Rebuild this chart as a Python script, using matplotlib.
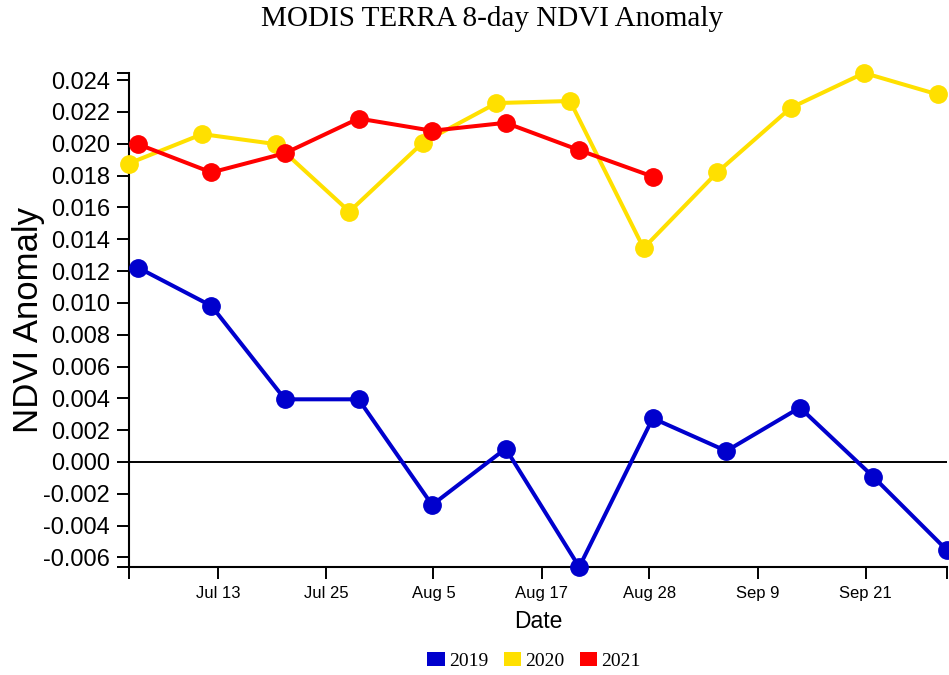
import matplotlib
matplotlib.use("Agg")
import matplotlib.pyplot as plt
import matplotlib.dates as mdates
from matplotlib.patches import Patch
from matplotlib.ticker import FixedLocator, FuncFormatter
import numpy as np
import pandas as pd

# 8-day composite dates per year
dates_2019 = ["2019-07-04", "2019-07-12", "2019-07-20", "2019-07-28", "2019-08-05", "2019-08-13",
              "2019-08-21", "2019-08-29", "2019-09-06", "2019-09-14", "2019-09-22", "2019-09-30"]
dates_2020 = ["2020-07-03", "2020-07-11", "2020-07-19", "2020-07-27", "2020-08-04", "2020-08-12",
              "2020-08-20", "2020-08-28", "2020-09-05", "2020-09-13", "2020-09-21", "2020-09-29"]
dates_2021 = ["2021-07-04", "2021-07-12", "2021-07-20", "2021-07-28", "2021-08-05", "2021-08-13",
              "2021-08-21", "2021-08-29"]

ndvi_2019 = [0.01222, 0.00981, 0.00394, 0.00394, -0.00270, 0.00084,
             -0.00660, 0.00275, 0.00069, 0.00342, -0.00094, -0.00555]
ndvi_2020 = [0.01876, 0.02061, 0.01998, 0.01574, 0.02008, 0.02256,
             0.02269, 0.01344, 0.01820, 0.02226, 0.02445, 0.02310]
ndvi_2021 = [0.01998, 0.01820, 0.01941, 0.02159, 0.02082, 0.02132,
             0.01960, 0.01794]

years = ["2019", "2020", "2021"]
colors = ["#0000CD", "#FFE000", "#FF0000"]

tick_dates = ["2020-07-12 16:30", "2020-07-24 11:00", "2020-08-05 03:30", "2020-08-16 22:30",
              "2020-08-28 15:00", "2020-09-09 09:30", "2020-09-21 03:30"]
tick_labels = ["Jul 13", "Jul 25", "Aug 5", "Aug 17", "Aug 28", "Sep 9", "Sep 21"]


def to_common_year(ds):
    # put every season on the same (2020) calendar so they overlay
    return [pd.Timestamp(d).replace(year=2020) for d in ds]


W, H = 949, 675
fig = plt.figure(figsize=(W / 100, H / 100), dpi=100)
ax = fig.add_axes([128.7 / W, 1 - 567 / H, (947 - 128.7) / W, (567 - 73) / H])

series = [(dates_2019, ndvi_2019), (dates_2020, ndvi_2020), (dates_2021, ndvi_2021)]
all_x = []
for (ds, vals), c in zip(series, colors):
    xs = to_common_year(ds)
    all_x += xs
    ax.plot(xs, vals, color=c, lw=2.9, marker="o", ms=12.5, clip_on=False, zorder=3)

ax.axhline(0, color="black", lw=1.4, zorder=2)

all_y = ndvi_2019 + ndvi_2020 + ndvi_2021
ylo, yhi = min(all_y), max(all_y)
ax.set_ylim(ylo, yhi)
xlo, xhi = min(all_x), max(all_x)
ax.set_xlim(xlo, xhi)

for s in ["top", "right"]:
    ax.spines[s].set_visible(False)
for s in ["left", "bottom"]:
    ax.spines[s].set_linewidth(1.5)

ax.xaxis.set_major_locator(FixedLocator(mdates.date2num(pd.to_datetime(tick_dates))))
ax.set_xticklabels(tick_labels, fontsize=12, family="Liberation Sans")
ax.xaxis.set_minor_locator(FixedLocator(mdates.date2num([xlo, xhi])))

ax.set_yticks(np.arange(-0.006, 0.0245, 0.002))
ax.yaxis.set_major_formatter(FuncFormatter(lambda v, _: f"{round(v, 3):.3f}".replace("-0.000", "0.000")))
ax.yaxis.set_minor_locator(FixedLocator([ylo, yhi]))
for lab in ax.get_yticklabels():
    lab.set_family("Liberation Sans")
ax.tick_params(axis="y", labelsize=17, pad=5)
ax.tick_params(axis="x", pad=5)
ax.tick_params(which="both", length=8.5, width=1.4, color="black")

ax.set_xlabel("Date", fontsize=16.5, family="Liberation Sans", labelpad=7)
ax.set_ylabel("NDVI Anomaly", fontsize=25, family="Liberation Sans")
ax.yaxis.set_label_coords(29 / W, 0.5, transform=fig.transFigure)
ax.yaxis.label.set_va("center")
ax.yaxis.label.set_y(320 / H)
ax.yaxis.label.set_position((29 / W, 1 - 320 / H))

fig.text(492 / W, 1 - 19 / H, "MODIS TERRA 8-day NDVI Anomaly", ha="center", va="center",
         fontsize=21, family="Liberation Serif")

handles = [Patch(facecolor=c, edgecolor="none") for c in colors]
fig.legend(handles, years, loc="center", bbox_to_anchor=(534 / W, 1 - 661 / H), ncol=3,
           frameon=False, prop={"family": "Liberation Serif", "size": 14},
           handlelength=0.9, handleheight=0.7, handletextpad=0.2, columnspacing=0.8)

fig.savefig("out.png", dpi=100)
